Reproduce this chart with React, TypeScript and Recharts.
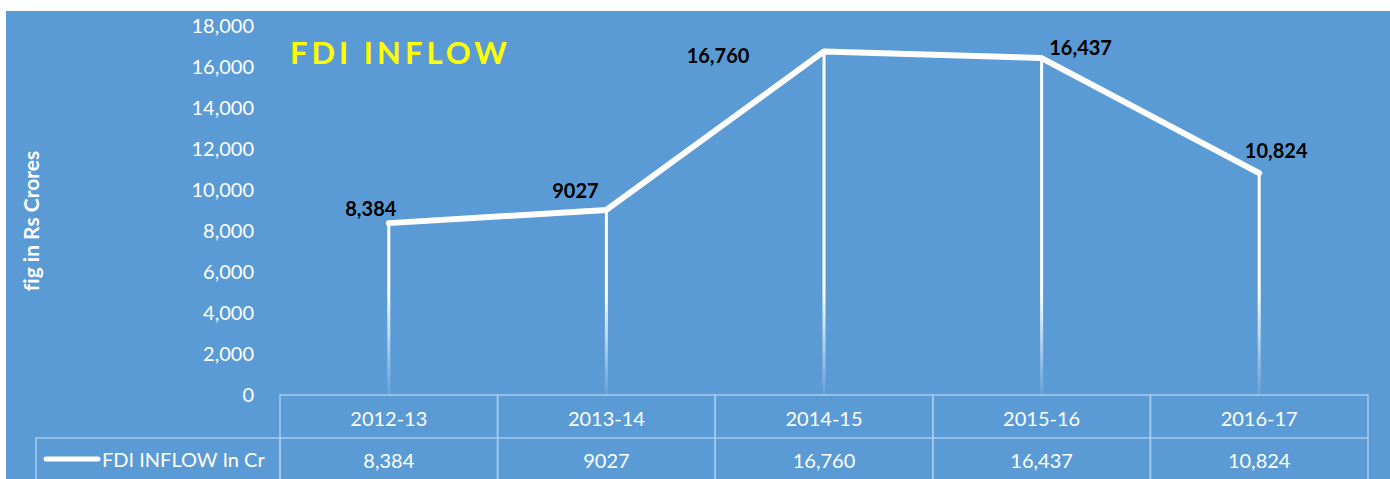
import React from 'react';
import { LineChart, Line, XAxis, YAxis } from 'recharts';

// FDI inflow, fig in Rs Crores
const years = ['2012-13', '2013-14', '2014-15', '2015-16', '2016-17'];
const inflow = [8384, 9027, 16760, 16437, 10824];
const inflowLabels = ['8,384', '9027', '16,760', '16,437', '10,824'];
const yTicks = [0, 2000, 4000, 6000, 8000, 10000, 12000, 14000, 16000, 18000];

// label placement relative to the point (matches the original layout)
const labelShift = [
  [-18, -15],
  [-31, -20],
  [-106, 4],
  [39, -11],
  [17, -23],
];

const W = 1384;
const H = 468;
const LEFT = 274;
const RIGHT = 22;
const TOP = 15;
const XH = 84;
const PLOT_W = W - LEFT - RIGHT;
const BOTTOM = H - XH;
const BORDER = '#a9cbec';
const FONT = 'Lato, "Open Sans", sans-serif';
const noLig = { fontVariantLigatures: 'none' } as React.CSSProperties;

const data = years.map((y, i) => ({ year: y, value: inflow[i] }));

const fmt = (v: number) => v.toLocaleString('en-US');

function TableTick(props: any) {
  const { x, payload } = props;
  const i = payload.index;
  const bw = PLOT_W / years.length;
  const left = x - bw / 2;
  return (
    <g>
      <rect x={left} y={BOTTOM} width={bw} height={H - BOTTOM + 2} fill="none" stroke={BORDER} strokeWidth={1.5} />
      <line x1={left} x2={left + bw} y1={BOTTOM + 43} y2={BOTTOM + 43} stroke={BORDER} strokeWidth={1.5} />
      <text x={x} y={BOTTOM + 23} textAnchor="middle" dominantBaseline="central" fill="#fff" fontSize={20} fontFamily={FONT}>
        {payload.value}
      </text>
      <text x={x} y={BOTTOM + 65} textAnchor="middle" dominantBaseline="central" fill="#fff" fontSize={20} fontFamily={FONT}>
        {inflowLabels[i]}
      </text>
      {i === 0 && (
        <g>
          <rect x={30} y={BOTTOM + 43} width={LEFT - 30} height={H - BOTTOM - 41} fill="none" stroke={BORDER} strokeWidth={1.5} />
          <line x1={40} x2={92} y1={BOTTOM + 64} y2={BOTTOM + 64} stroke="#fff" strokeWidth={5} strokeLinecap="round" />
          <text x={96} y={BOTTOM + 64} dominantBaseline="central" fill="#fff" fontSize={20} fontFamily={FONT}>
            FDI INFLOW In Cr
          </text>
        </g>
      )}
    </g>
  );
}

function DropDot(props: any) {
  const { cx, cy, index } = props;
  return (
    <g key={`d${index}`}>
      <line x1={cx} x2={cx} y1={cy} y2={BOTTOM} stroke="url(#dropFade)" strokeWidth={3} />
    </g>
  );
}

function PointLabel(props: any) {
  const { x, y, index } = props;
  const [dx, dy] = labelShift[index];
  return (
    <text x={x + dx} y={y + dy} textAnchor="middle" dominantBaseline="central" fill="#000" fontWeight="bold" fontSize={20} fontFamily={FONT}>
      {inflowLabels[index]}
    </text>
  );
}

export default function App() {
  return (
    <div style={{ position: 'absolute', left: 6, top: 11, width: W, height: H, background: '#5b9bd5' }}>
      <LineChart width={W} height={H} data={data} margin={{ top: TOP, right: RIGHT, bottom: 0, left: 0 }}>
        <defs>
          <linearGradient id="dropFade" x1="0" y1={TOP} x2="0" y2={BOTTOM} gradientUnits="userSpaceOnUse">
            <stop offset="0%" stopColor="#fff" stopOpacity={1} />
            <stop offset="72%" stopColor="#fff" stopOpacity={1} />
            <stop offset="100%" stopColor="#fff" stopOpacity={0.05} />
          </linearGradient>
        </defs>
        <XAxis
          dataKey="year"
          scale="band"
          height={XH}
          axisLine={false}
          tickLine={false}
          interval={0}
          tick={<TableTick />}
        />
        <YAxis
          width={LEFT}
          domain={[0, 18000]}
          ticks={yTicks}
          interval={0}
          axisLine={false}
          tickLine={false}
          tickMargin={20}
          tickFormatter={fmt}
          tick={{ fill: '#fff', fontSize: 20, fontFamily: FONT }}
        />
        <text x={24} y={210} transform="rotate(-90 24 210)" textAnchor="middle" dominantBaseline="central" fill="#fff" fontWeight="bold" fontSize={21} fontFamily={FONT} style={noLig}>
          fig in Rs Crores
        </text>
        <text x={284} y={41} dominantBaseline="central" fill="#ffff00" fontWeight="bold" fontSize={31} letterSpacing={4} fontFamily={FONT}>
          FDI INFLOW
        </text>
        <Line
          dataKey="value"
          stroke="#fff"
          strokeWidth={6}
          strokeLinecap="round"
          strokeLinejoin="round"
          dot={DropDot}
          activeDot={false}
          label={PointLabel}
          isAnimationActive={false}
        />
      </LineChart>
    </div>
  );
}
